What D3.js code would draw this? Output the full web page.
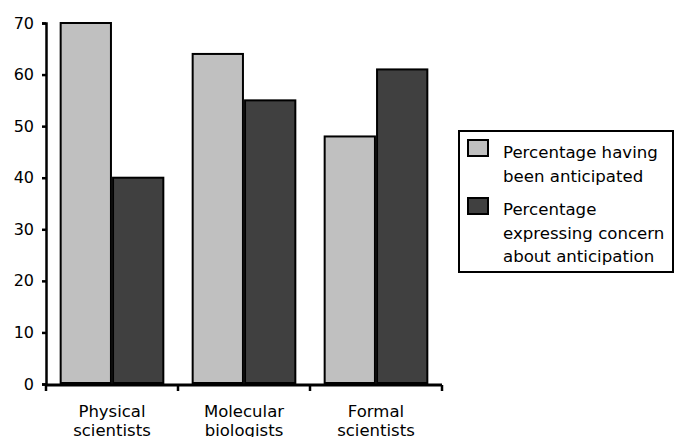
<!DOCTYPE html>
<html><head><meta charset="utf-8">
<script src="https://cdn.jsdelivr.net/npm/d3@7"></script>
<style>body{margin:0;background:#fff}svg{display:block}</style>
</head><body>
<svg id="c" width="674" height="437"></svg>
<script>
const categories = [["Physical","scientists"],["Molecular","biologists"],["Formal","scientists"]];
const seriesNames = [["Percentage having","been anticipated"],["Percentage","expressing concern","about anticipation"]];
const anticipated = [70, 64, 48];
const concern = [40, 55, 61];
const yTicks = [0,10,20,30,40,50,60,70];
const colors = ["#c0c0c0", "#404040"];

const svg = d3.select("#c");
const font = "DejaVu Sans, Verdana, sans-serif";
const x0 = 46, x1 = 442, yTop = 23, yBot = 384;
const y = d3.scaleLinear().domain([0,70]).range([yBot, yTop]);
const x = d3.scaleBand().domain(d3.range(categories.length)).range([x0, x1]).paddingInner(0).paddingOuter(0);
const inner = d3.scaleBand().domain([0,1]).range([0, x.bandwidth()]).paddingInner(0.04).paddingOuter(0.28);

const series = [anticipated, concern];
series.forEach((vals, s) => {
  svg.append("g").selectAll("rect").data(vals).join("rect")
    .attr("x", (d,i) => x(i) + inner(s))
    .attr("width", inner.bandwidth())
    .attr("y", d => y(d))
    .attr("height", d => y(0) - y(d) - 1)
    .attr("fill", colors[s]).attr("stroke", "#000").attr("stroke-width", 2);
});

// y axis
const ya = svg.append("g").attr("transform", `translate(${x0},0)`)
  .call(d3.axisLeft(y).tickValues(yTicks).tickSize(4).tickPadding(8));
ya.select(".domain").attr("stroke-width", 2.5);
ya.selectAll(".tick line").attr("stroke-width", 2.5);
ya.selectAll("text").attr("font-family", font).attr("font-size", 16).attr("fill", "#000");

// x axis
const xa = svg.append("g").attr("transform", `translate(0,${yBot + 1})`);
xa.append("line").attr("x1", x0).attr("x2", x1).attr("stroke", "#000").attr("stroke-width", 3);
const tickPos = d3.range(categories.length + 1).map(i => i < categories.length ? x(i) : x1);
xa.selectAll("line.t").data(tickPos).join("line").attr("class","t")
  .attr("x1", d => d).attr("x2", d => d).attr("y1", 0).attr("y2", 6)
  .attr("stroke", "#000").attr("stroke-width", 2.5);
categories.forEach((lines, i) => {
  const t = svg.append("text").attr("font-family", font).attr("font-size", 16.5)
    .attr("text-anchor", "middle").attr("fill", "#000");
  lines.forEach((ln, j) => t.append("tspan").attr("x", x(i) + x.bandwidth()/2)
    .attr("y", 417 + j*19).text(ln));
});

// legend
const lg = svg.append("g");
lg.append("rect").attr("x", 459).attr("y", 131).attr("width", 214).attr("height", 141)
  .attr("fill", "#fff").attr("stroke", "#000").attr("stroke-width", 2);
const legendY = [140, 198];
const textY = [158, 215];
seriesNames.forEach((lines, s) => {
  lg.append("rect").attr("x", 468).attr("y", legendY[s]).attr("width", 20).attr("height", 16)
    .attr("fill", colors[s]).attr("stroke", "#000").attr("stroke-width", 2);
  const t = lg.append("text").attr("font-family", font).attr("font-size", 16.6).attr("fill", "#000");
  lines.forEach((ln, j) => t.append("tspan").attr("x", 503).attr("y", textY[s] + j*23.5).text(ln));
});
</script>
</body></html>
